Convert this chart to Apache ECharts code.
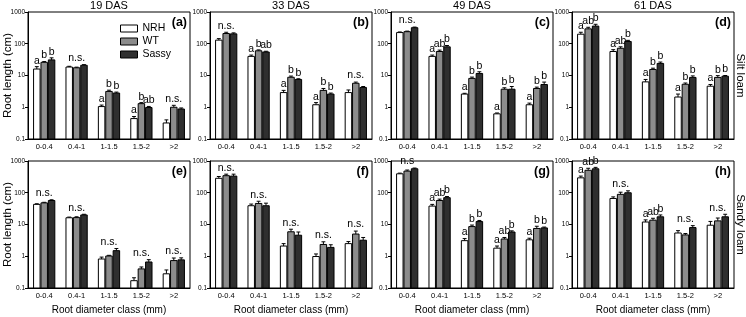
<!DOCTYPE html>
<html>
<head>
<meta charset="utf-8">
<script src="https://cdn.jsdelivr.net/npm/echarts@6/dist/echarts.min.js"></script>
<style>html,body{margin:0;padding:0;background:#fff}#c{width:746px;height:317px}</style>
</head>
<body>
<div id="c"></div>
<script>
// ---------------- data ----------------
const categories = ['0-0.4', '0.4-1', '1-1.5', '1.5-2', '>2'];
const groups = ['NRH', 'WT', 'Sassy'];
const colTitles = ['19 DAS', '33 DAS', '49 DAS', '61 DAS'];
const rowTitles = ['Silt loam', 'Sandy loam'];
const panelTags = ['(a)', '(b)', '(c)', '(d)', '(e)', '(f)', '(g)', '(h)'];
const yTickValues = [0.1, 1, 10, 100, 1000];

// means: [NRH, WT, Sassy] ; se: same layout ; letters per category
const aMean = [[16, 18.5, 1.05, 0.44, 0.32], [26, 17.5, 3.15, 1.3, 1.0], [31, 21, 2.8, 0.98, 0.88]];
const aSE   = [[3, 1, 0.12, 0.07, 0.08], [1.5, 0.8, 0.3, 0.1, 0.15], [5, 1, 0.2, 0.08, 0.07]];
const aLet  = [['a','b','b'], 'n.s.', ['a','b','b'], ['a','b','ab'], 'n.s.'];

const bMean = [[130, 40, 2.9, 1.2, 2.9], [210, 60, 8.8, 3.4, 5.7], [205, 55, 7.5, 2.6, 4.2]];
const bSE   = [[15, 4, 0.5, 0.2, 0.6], [20, 4, 0.8, 0.5, 0.5], [15, 3, 0.4, 0.2, 0.3]];
const bLet  = ['n.s.', ['a','b','ab'], ['a','b','b'], ['a','b','b'], 'n.s.'];

const cMean = [[225, 40, 2.6, 0.62, 1.2], [240, 57, 8.1, 3.7, 3.9], [320, 80, 11.6, 3.7, 5.2]];
const cSE   = [[10, 4, 0.15, 0.04, 0.15], [10, 6, 0.8, 0.4, 0.4], [15, 8, 1.5, 0.8, 1.0]];
const cLet  = ['n.s.', ['a','ab','b'], ['a','b','b'], ['a','b','b'], ['a','b','b']];

const dMean = [[200, 57, 6.3, 2.1, 4.6], [295, 72, 15.5, 5.3, 8.7], [360, 118, 24, 8.7, 9.5]];
const dSE   = [[30, 8, 1.2, 0.5, 0.6], [35, 8, 1.5, 0.5, 1.2], [50, 10, 2.5, 1, 0.5]];
const dLet  = [['a','ab','b'], ['a','ab','b'], ['a','b','b'], ['a','b','b'], ['a','b','b']];

const eMean = [[43, 16.3, 0.82, 0.17, 0.28], [48, 16.5, 1.02, 0.4, 0.73], [57, 20, 1.5, 0.66, 0.77]];
const eSE   = [[2, 0.8, 0.12, 0.04, 0.09], [2, 1, 0.05, 0.06, 0.15], [3, 1, 0.25, 0.12, 0.12]];
const eLet  = ['n.s.', 'n.s.', 'n.s.', 'n.s.', 'n.s.'];

const fMean = [[285, 39, 2.1, 0.98, 2.5], [345, 46, 5.9, 2.35, 5.0], [335, 39, 4.6, 1.9, 3.2]];
const fSE   = [[40, 5, 0.4, 0.2, 0.4], [40, 8, 1.2, 0.5, 1.2], [50, 8, 1.2, 0.4, 0.7]];
const fLet  = ['n.s.', 'n.s.', 'n.s.', 'n.s.', 'n.s.'];

const gMean = [[395, 38, 3.1, 1.8, 3.3], [480, 57, 8.6, 3.5, 7.5], [570, 70, 12.4, 5.8, 7.8]];
const gSE   = [[20, 5, 0.5, 0.3, 0.4], [40, 6, 1, 0.4, 1.3], [30, 6, 1, 0.5, 0.5]];
const gLet  = ['n.s', ['a','ab','b'], ['a','b','b'], ['a','ab','b'], ['a','b','b']];

const hMean = [[295, 66, 12, 5.4, 9.5], [510, 89, 13.7, 4.7, 13], [570, 100, 17.5, 8, 17.5]];
const hSE   = [[40, 8, 2, 1, 3], [80, 15, 2, 0.5, 3], [60, 15, 2.5, 1.2, 3.5]];
const hLet  = [['a','ab','b'], 'n.s.', ['a','ab','b'], 'n.s.', 'n.s.'];

const panels = [
  {mean: aMean, se: aSE, letters: aLet}, {mean: bMean, se: bSE, letters: bLet},
  {mean: cMean, se: cSE, letters: cLet}, {mean: dMean, se: dSE, letters: dLet},
  {mean: eMean, se: eSE, letters: eLet}, {mean: fMean, se: fSE, letters: fLet},
  {mean: gMean, se: gSE, letters: gLet}, {mean: hMean, se: hSE, letters: hLet}
];

// ---------------- layout / style ----------------
const FONT = 'Liberation Sans, Arial, sans-serif';
const fills = ['#ffffff', '#8c8c8c', '#2f2f2f'];
const colLeft = [28, 210, 391, 572];
const rowTop = [12, 161];
const PW = 162, PH = 127;

const grids = [], xAxes = [], yAxes = [], series = [];
panels.forEach((P, p) => {
  const r = Math.floor(p / 4), c = p % 4;
  grids.push({left: colLeft[c], top: rowTop[r], width: PW, height: PH, containLabel: false,
    show: true, borderColor: '#000', borderWidth: 1, backgroundColor: 'transparent'});
  xAxes.push({type: 'category', gridIndex: p, data: categories,
    axisLine: {lineStyle: {color: '#000'}}, axisTick: {show: false},
    axisLabel: {fontSize: 7.5, margin: 4, color: '#000', interval: 0, fontFamily: FONT}});
  yAxes.push({type: 'log', logBase: 10, gridIndex: p, min: yTickValues[0], max: yTickValues[yTickValues.length - 1],
    axisLine: {show: true, lineStyle: {color: '#000'}},
    axisTick: {show: true, length: 3, lineStyle: {color: '#000'}},
    splitLine: {show: false},
    axisLabel: {fontSize: 6.5, margin: 3, color: '#000', fontFamily: FONT,
      formatter: v => String(+(+v).toPrecision(6))}});
  groups.forEach((gName, gi) => {
    series.push({
      type: 'custom', name: gName, xAxisIndex: p, yAxisIndex: p, clip: false,
      itemStyle: {color: fills[gi], borderColor: '#000', borderWidth: 1},
      data: P.mean[gi].map((v, i) => [i, v, P.se[gi][i]]),
      encode: {x: 0, y: 1},
      renderItem: (params, api) => {
        const i = params.dataIndex;
        const v = api.value(1), se = api.value(2);
        const cs = params.coordSys;
        const band = cs.width / categories.length;
        const bw = band * 0.2, step = band * 0.228, cap = bw * 0.3;
        const ctr = api.coord([i, v]);
        const cx = ctr[0] + (gi - 1) * step;
        const yTop = ctr[1], yBase = cs.y + cs.height;
        const yErr = api.coord([i, v + se])[1];
        const children = [
          {type: 'line', shape: {x1: cx, y1: yTop, x2: cx, y2: yErr}, style: {stroke: '#000', lineWidth: 1}},
          {type: 'line', shape: {x1: cx - cap, y1: yErr, x2: cx + cap, y2: yErr}, style: {stroke: '#000', lineWidth: 1}},
          {type: 'rect', shape: {x: cx - bw / 2, y: yTop, width: bw, height: yBase - yTop},
            style: {fill: fills[gi], stroke: '#000', lineWidth: 1}}
        ];
        const L = P.letters[i];
        if (Array.isArray(L)) {
          children.push({type: 'text', style: {text: L[gi], x: cx, y: yErr - 0.5, align: 'center', verticalAlign: 'bottom',
            fontSize: 10.5, fontFamily: FONT, fill: '#000'}});
        } else if (gi === 1) {
          let top = 0;
          for (let g = 0; g < 3; g++) top = Math.max(top, P.mean[g][i] + P.se[g][i]);
          const yy = api.coord([i, top])[1];
          children.push({type: 'text', style: {text: L, x: ctr[0], y: yy - 1, align: 'center', verticalAlign: 'bottom',
            fontSize: 10.5, fontFamily: FONT, fill: '#000'}});
        }
        return {type: 'group', children};
      }
    });
  });
});

const graphics = [];
colTitles.forEach((t, c) => graphics.push({type: 'text', x: colLeft[c] + PW / 2, y: 6,
  style: {text: t, align: 'center', verticalAlign: 'middle', fontSize: 11, fontFamily: FONT, fill: '#000'}}));
panelTags.forEach((t, p) => {
  const r = Math.floor(p / 4), c = p % 4;
  graphics.push({type: 'text', x: colLeft[c] + PW - 3, y: rowTop[r] + 11,
    style: {text: t, align: 'right', verticalAlign: 'middle', fontSize: 12.5, fontWeight: 'bold', fontFamily: FONT, fill: '#000'}});
});
rowTitles.forEach((t, r) => graphics.push({type: 'text', x: 740, y: rowTop[r] + PH / 2, rotation: -Math.PI / 2,
  style: {text: t, align: 'center', verticalAlign: 'middle', fontSize: 11.5, fontFamily: FONT, fill: '#000'}}));
rowTop.forEach(t => graphics.push({type: 'text', x: 8, y: t + PH / 2, rotation: Math.PI / 2,
  style: {text: 'Root length (cm)', align: 'center', verticalAlign: 'middle', fontSize: 11.5, fontFamily: FONT, fill: '#000'}}));
colLeft.forEach(l => graphics.push({type: 'text', x: l + PW / 2, y: 310,
  style: {text: 'Root diameter class (mm)', align: 'center', verticalAlign: 'middle', fontSize: 10, fontFamily: FONT, fill: '#000'}}));

const chart = echarts.init(document.getElementById('c'), null, {renderer: 'canvas'});
chart.setOption({
  animation: false,
  textStyle: {fontFamily: FONT},
  grid: grids, xAxis: xAxes, yAxis: yAxes, series: series,
  legend: {
    data: groups.map((g, gi) => ({name: g, itemStyle: {color: fills[gi], borderColor: '#000', borderWidth: 1}})),
    orient: 'vertical', left: 115, top: 18, itemWidth: 17, itemHeight: 7, itemGap: 2, icon: 'rect',
    selectedMode: false, textStyle: {fontSize: 10.5, lineHeight: 8, color: '#000', fontFamily: FONT}
  },
  graphic: {elements: graphics}
});
</script>
</body>
</html>
